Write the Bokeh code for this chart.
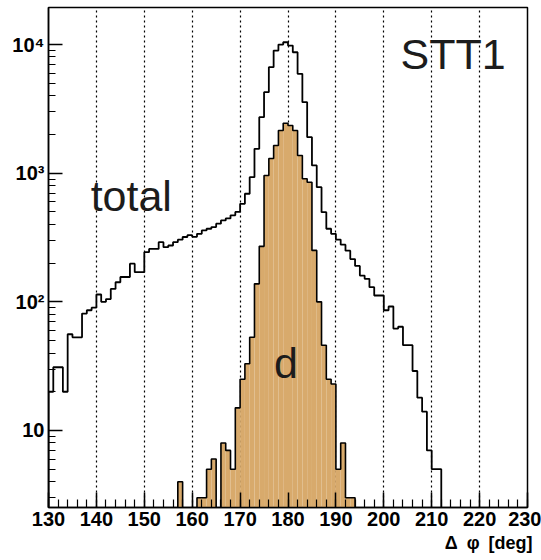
import numpy as np
from bokeh.plotting import figure
from bokeh.models import FixedTicker, Label, Title
from bokeh.embed import file_html
from bokeh.resources import INLINE

# 1-degree bins from 130 to 230 deg
bin_edges = list(range(130, 231))

# counts per bin, all tracks
total_counts = [
    20, 31, 31, 20, 56, 53, 53, 81, 86, 90,            # 130-139
    114, 100, 105, 126, 142, 156, 156, 198, 170, 170,  # 140-149
    243, 258, 258, 291, 266, 274, 291, 304, 319, 330,  # 150-159
    320, 338, 359, 370, 381, 405, 429, 445, 470, 500,  # 160-169
    578, 692, 931, 1546, 2723, 4263, 6665, 8980, 10000, 10420,  # 170-179
    9820, 8710, 5920, 3565, 1905, 1148, 779, 498, 370, 338,     # 180-189
    305, 278, 250, 215, 190, 160, 151, 130, 112, 112,  # 190-199
    86, 92, 62, 64, 46, 46, 29, 18, 14, 7,             # 200-209
    5, 5, 0, 0, 0, 0, 0, 0, 0, 0,                      # 210-219
    0, 0, 0, 0, 0, 0, 0, 0, 0, 0,                      # 220-229
]

# counts per bin, deuteron candidates
d_counts = [
    0, 0, 0, 0, 0, 0, 0, 0, 0, 0,                      # 130-139
    0, 0, 0, 0, 0, 0, 0, 0, 0, 0,                      # 140-149
    0, 0, 0, 0, 0, 0, 0, 4, 0, 0,                      # 150-159
    0, 3, 3, 5, 6, 0, 8, 7, 5, 15,                     # 160-169
    25, 33, 53, 138, 270, 960, 1300, 1641, 2147, 2447,  # 170-179
    2348, 2147, 1373, 904, 851, 251, 100, 46, 25, 23,  # 180-189
    5, 8, 3, 3, 0, 0, 0, 0, 0, 0,                      # 190-199
    0, 0, 0, 0, 0, 0, 0, 0, 0, 0,                      # 200-209
    0, 0, 0, 0, 0, 0, 0, 0, 0, 0,                      # 210-219
    0, 0, 0, 0, 0, 0, 0, 0, 0, 0,                      # 220-229
]

x_ticks = list(range(130, 231, 10))
y_ticks = [10, 100, 1000, 10000]
y_tick_text = {10: "10", 100: "10\u00b2", 1000: "10\u00b3", 10000: "10\u2074"}

Y_MIN, Y_MAX = 2.52, 19400
FLOOR = 1e-3  # empty bins drop below the visible range

p = figure(
    width=541, height=560,
    x_range=(130, 230), y_range=(Y_MIN, Y_MAX),
    y_axis_type="log",
    output_backend="svg", toolbar_location=None,
    min_border_left=48, min_border_right=14,
    min_border_top=7, min_border_bottom=53,
    background_fill_color="white", border_fill_color="white",
)
p.outline_line_color = "black"
p.outline_line_width = 1.5

edges = np.array(bin_edges, dtype=float)
tot = np.array(total_counts, dtype=float)
dd = np.array(d_counts, dtype=float)


def outline(counts):
    vals = np.where(counts > 0, counts, FLOOR)
    xs = np.repeat(edges, 2)[1:-1]
    ys = np.repeat(vals, 2)
    xs = np.concatenate([[edges[0]], xs, [edges[-1]]])
    ys = np.concatenate([[FLOOR], ys, [FLOOR]])
    return xs, ys


# filled deuteron histogram
mask = dd > 0
p.quad(left=edges[:-1][mask], right=edges[1:][mask], bottom=FLOOR, top=dd[mask],
       fill_color="#D8AA6C", line_color=None)
dx, dy = outline(dd)
p.line(dx, dy, line_color="black", line_width=1.6)

# all-track histogram
tx, ty = outline(tot)
p.line(tx, ty, line_color="black", line_width=1.8)

# axes
FONT = "Liberation Sans"
p.xaxis.ticker = FixedTicker(ticks=x_ticks, minor_ticks=list(range(130, 231, 2)))
minor_y = [m * 10 ** e for e in range(0, 5) for m in range(2, 10)]
p.yaxis.ticker = FixedTicker(ticks=y_ticks, minor_ticks=minor_y)
p.yaxis.major_label_overrides = y_tick_text

for ax in (p.xaxis[0], p.yaxis[0]):
    ax.axis_line_color = "black"
    ax.axis_line_width = 1.5
    ax.major_tick_out = 0
    ax.minor_tick_out = 0
    ax.major_tick_line_color = "black"
    ax.minor_tick_line_color = "black"
    ax.major_tick_line_width = 1.5
    ax.minor_tick_line_width = 1.2
    ax.major_label_text_font = FONT
    ax.major_label_text_font_style = "bold"
    ax.major_label_text_font_size = "20px"
    ax.major_label_text_color = "black"
    ax.major_label_standoff = 4

p.xaxis.major_tick_in = 15
p.xaxis.minor_tick_in = 8
p.yaxis.major_tick_in = 14
p.yaxis.minor_tick_in = 7

p.xgrid.ticker = FixedTicker(ticks=x_ticks[1:-1])
p.xgrid.grid_line_color = "black"
p.xgrid.grid_line_dash = "2 3"
p.xgrid.grid_line_width = 1.2
p.ygrid.grid_line_color = None

# axis title, right-aligned under the x axis
p.add_layout(Title(text="\u0394\u2002\u03c6\u2002[deg]", align="right", text_font=FONT,
                   text_font_style="bold", text_font_size="18px",
                   text_color="black", standoff=4, offset=-5), "below")

# in-plot annotations
for txt, x, y in (("STT1", 203.5, 8390), ("total", 138.8, 663), ("d", 177.1, 33.7)):
    p.add_layout(Label(x=x, y=y, text=txt, text_align="left",
                       text_baseline="alphabetic", text_font=FONT,
                       text_font_size="43px", text_color="#1c1c1c"))

open("out.html", "w").write(file_html(p, INLINE))
